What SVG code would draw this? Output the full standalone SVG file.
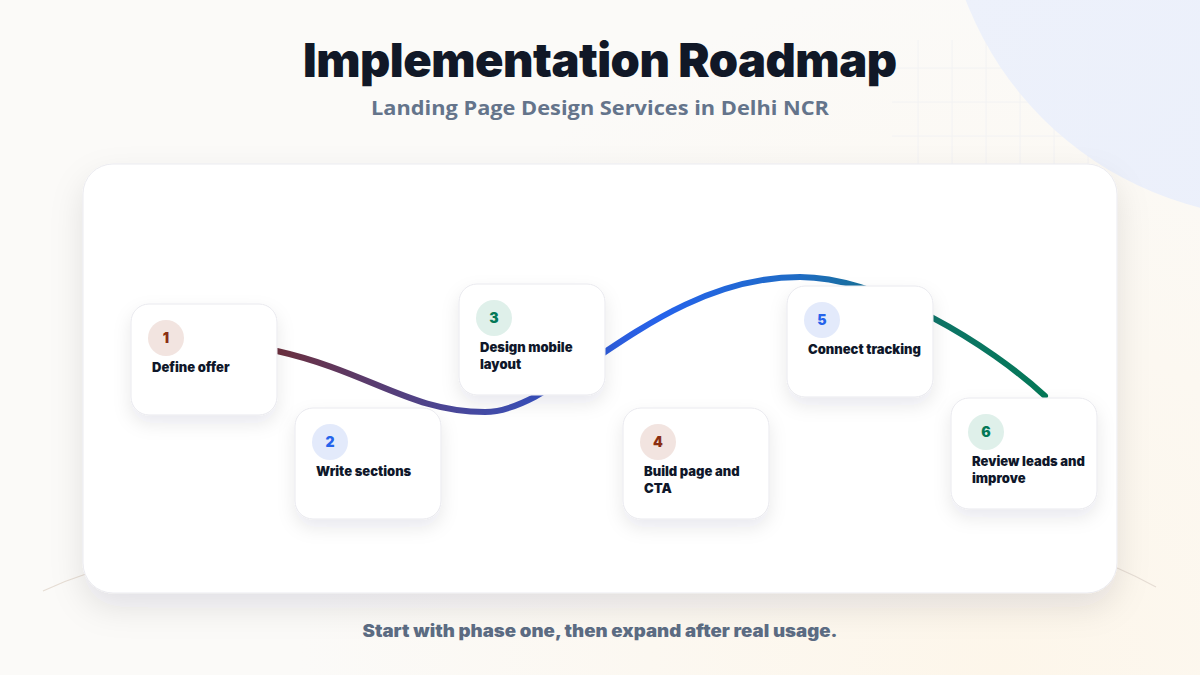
<svg xmlns="http://www.w3.org/2000/svg" width="1200" height="675" viewBox="0 0 1200 675">
  <defs>
    <radialGradient id="bgWarm" cx="1000" cy="675" r="700" gradientUnits="userSpaceOnUse">
      <stop offset="0" stop-color="#fdf6ea"/>
      <stop offset="1" stop-color="#fbfaf8"/>
    </radialGradient>
    <linearGradient id="blob" x1="0" y1="0" x2="1" y2="1">
      <stop offset="0" stop-color="#eef2fb"/>
      <stop offset="1" stop-color="#e9eefb"/>
    </linearGradient>
    <linearGradient id="road" x1="277" y1="0" x2="1047" y2="0" gradientUnits="userSpaceOnUse">
      <stop offset="0" stop-color="#6b2f3d"/>
      <stop offset="0.22" stop-color="#4b4696"/>
      <stop offset="0.4" stop-color="#3158d2"/>
      <stop offset="0.5" stop-color="#2563eb"/>
      <stop offset="0.68" stop-color="#1f6cc4"/>
      <stop offset="0.86" stop-color="#0d7466"/>
      <stop offset="1" stop-color="#047857"/>
    </linearGradient>
    <filter id="cardShadow" x="-10%" y="-10%" width="120%" height="130%">
      <feDropShadow dx="0" dy="14" stdDeviation="16" flood-color="#1e2440" flood-opacity="0.10"/>
    </filter>
    <filter id="nodeShadow" x="-30%" y="-30%" width="160%" height="170%">
      <feDropShadow dx="0" dy="8" stdDeviation="9" flood-color="#1e2440" flood-opacity="0.09"/>
    </filter>
    <style>
      .title { font-family: Inter, "Liberation Sans", sans-serif; font-weight: 900; font-size: 47px; fill: #111827; }
      .subtitle { font-family: "Open Sans", "Liberation Sans", sans-serif; font-weight: 700; font-size: 20px; fill: #64748b; }
      .footer { font-family: Inter, "Liberation Sans", sans-serif; font-weight: 900; font-size: 17px; fill: #5b6b82; }
      .node rect { fill: #ffffff; stroke: #e9e9ee; stroke-width: 1; filter: url(#nodeShadow); }
      .label { font-family: Inter, "Liberation Sans", sans-serif; font-weight: 900; font-size: 13px; fill: #0f172a; }
      .num { font-family: Inter, "Liberation Sans", sans-serif; font-weight: 900; font-size: 14px; text-anchor: middle; }
      .c-rose { fill: #f2e4e0; }
      .t-rose { fill: #8b2e12; }
      .c-blue { fill: #e3eafb; }
      .t-blue { fill: #2563eb; }
      .c-green { fill: #dff0ea; }
      .t-green { fill: #047857; }
      .grid line { stroke: #eceef2; stroke-width: 1; }
    </style>
  </defs>

  <!-- background -->
  <rect x="0" y="0" width="1200" height="675" fill="url(#bgWarm)"/>
  <g class="grid" opacity="0.6">
    <line x1="918" y1="40" x2="918" y2="165"/>
    <line x1="952" y1="40" x2="952" y2="165"/>
    <line x1="986" y1="40" x2="986" y2="165"/>
    <line x1="1020" y1="40" x2="1020" y2="165"/>
    <line x1="1054" y1="40" x2="1054" y2="165"/>
    <line x1="1088" y1="40" x2="1088" y2="165"/>
    <line x1="892" y1="68" x2="1120" y2="68"/>
    <line x1="892" y1="102" x2="1120" y2="102"/>
    <line x1="892" y1="136" x2="1120" y2="136"/>
  </g>
  <circle cx="1283" cy="-122" r="340" fill="url(#blob)" opacity="0.95"/>

  <!-- faint arc lines behind card -->
  <path d="M 43 591 Q 64 581 86 574" fill="none" stroke="#e6ddd4" stroke-width="1.2"/>
  <path d="M 1115 567 Q 1136 576 1156 587" fill="none" stroke="#e6ddd4" stroke-width="1.2"/>

  <!-- main card -->
  <rect x="83" y="164" width="1034" height="429" rx="30" fill="#ffffff" stroke="#ebebf0" stroke-width="1" filter="url(#cardShadow)"/>

  <!-- title -->
  <text class="title" x="600" y="77" text-anchor="middle" textLength="594" lengthAdjust="spacing">Implementation Roadmap</text>
  <text class="subtitle" x="600" y="115" text-anchor="middle" textLength="458" lengthAdjust="spacingAndGlyphs">Landing Page Design Services in Delhi NCR</text>

  <!-- connectors -->
  <g id="connectors">
    <path d="M 277 351 C 370 372, 410 412, 485 412 C 560 412, 655 277, 800 277 C 880 277, 990 345, 1045 396" fill="none" stroke="url(#road)" stroke-width="6" stroke-linecap="round"/>
  </g>

  <!-- nodes -->
  <g id="node-1" class="node">
    <rect x="131" y="304" width="146" height="111" rx="18"/>
    <circle class="c-rose" cx="166" cy="338" r="18"/>
    <text class="num t-rose" x="166" y="343">1</text>
    <text class="label" x="152" y="372">Define offer</text>
  </g>
  <g id="node-2" class="node">
    <rect x="295" y="408" width="146" height="111" rx="18"/>
    <circle class="c-blue" cx="330" cy="442" r="18"/>
    <text class="num t-blue" x="330" y="447">2</text>
    <text class="label" x="316" y="476">Write sections</text>
  </g>
  <g id="node-3" class="node">
    <rect x="459" y="284" width="146" height="111" rx="18"/>
    <circle class="c-green" cx="494" cy="318" r="18"/>
    <text class="num t-green" x="494" y="323">3</text>
    <text class="label" x="480" y="352">Design mobile</text>
    <text class="label" x="480" y="369">layout</text>
  </g>
  <g id="node-4" class="node">
    <rect x="623" y="408" width="146" height="111" rx="18"/>
    <circle class="c-rose" cx="658" cy="442" r="18"/>
    <text class="num t-rose" x="658" y="447">4</text>
    <text class="label" x="644" y="476">Build page and</text>
    <text class="label" x="644" y="493">CTA</text>
  </g>
  <g id="node-5" class="node">
    <rect x="787" y="286" width="146" height="111" rx="18"/>
    <circle class="c-blue" cx="822" cy="320" r="18"/>
    <text class="num t-blue" x="822" y="325">5</text>
    <text class="label" x="808" y="354">Connect tracking</text>
  </g>
  <g id="node-6" class="node">
    <rect x="951" y="398" width="146" height="111" rx="18"/>
    <circle class="c-green" cx="986" cy="432" r="18"/>
    <text class="num t-green" x="986" y="437">6</text>
    <text class="label" x="972" y="466">Review leads and</text>
    <text class="label" x="972" y="483">improve</text>
  </g>

  <!-- footer -->
  <text class="footer" x="600" y="637" text-anchor="middle" textLength="475" lengthAdjust="spacingAndGlyphs">Start with phase one, then expand after real usage.</text>
</svg>
